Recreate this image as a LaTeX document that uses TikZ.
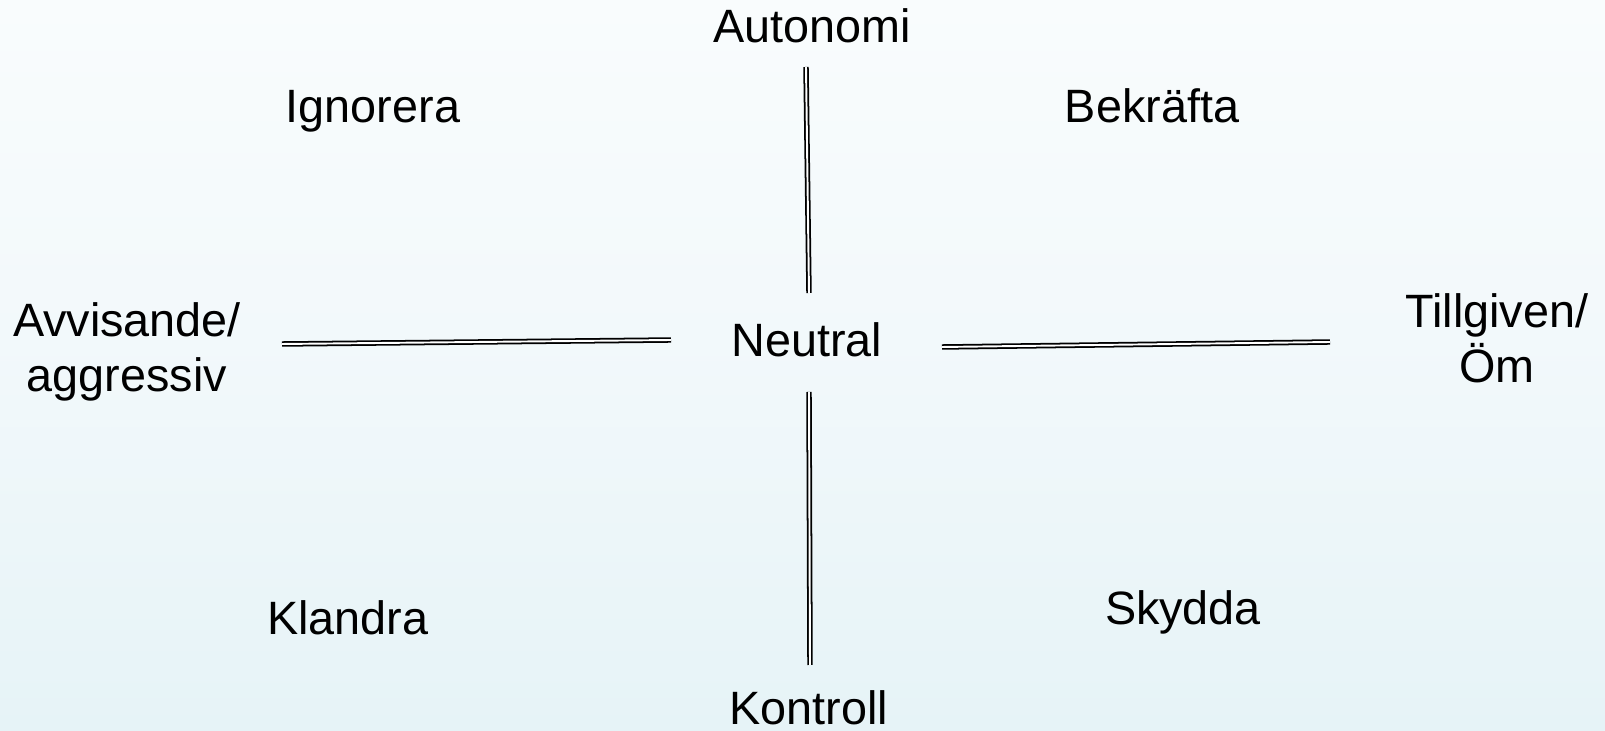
\documentclass[tikz,border=0pt]{standalone}
\usepackage{fontspec}
\setmainfont{Liberation Sans}
\usetikzlibrary{positioning}

\definecolor{bgtop}{HTML}{F9FCFD}
\definecolor{bgbottom}{HTML}{E6F3F7}

\begin{document}
\begin{tikzpicture}[x=0.01cm, y=-0.01cm,
    label/.style={inner sep=0pt, anchor=base, font=\fontsize{13.3}{15.9}\selectfont, align=center},
    axis/.style={double, double distance=0.55pt, line width=0.5pt}]
            % background
            \shade[top color=bgtop, bottom color=bgbottom, middle color=bgtop!60!bgbottom] (0,0) rectangle (1605,731);
            \useasboundingbox (0,0) rectangle (1605,731);

            \node[label] (neutral) at (807,357) {Neutral};
            \node[label] (autonomi) at (812,43) {Autonomi};
            \node[label] (kontroll) at (809,725) {Kontroll};
            \node[label] (avvisande) at (127,392) {Avvisande/\\aggressiv};
            \node[label] (tillgiven) at (1497,383) {Tillgiven/\\Öm};
            \node[label] (ignorera) at (373,123) {Ignorera};
            \node[label] (bekrafta) at (1152,123) {Bekräfta};
            \node[label] (klandra) at (348,635) {Klandra};
            \node[label] (skydda) at (1183,625) {Skydda};

            % axis ends
            \coordinate (up1) at (806,67);
            \coordinate (up2) at (809,293);
            \coordinate (dn1) at (809,392);
            \coordinate (dn2) at (810,665);
            \coordinate (lt1) at (282,344);
            \coordinate (lt2) at (671,340);
            \coordinate (rt1) at (942,347);
            \coordinate (rt2) at (1330,342);

            \draw[axis] (up1) -- (up2);
            \draw[axis] (dn1) -- (dn2);
            \draw[axis] (lt1) -- (lt2);
            \draw[axis] (rt1) -- (rt2);
        \end{tikzpicture}
\end{document}
